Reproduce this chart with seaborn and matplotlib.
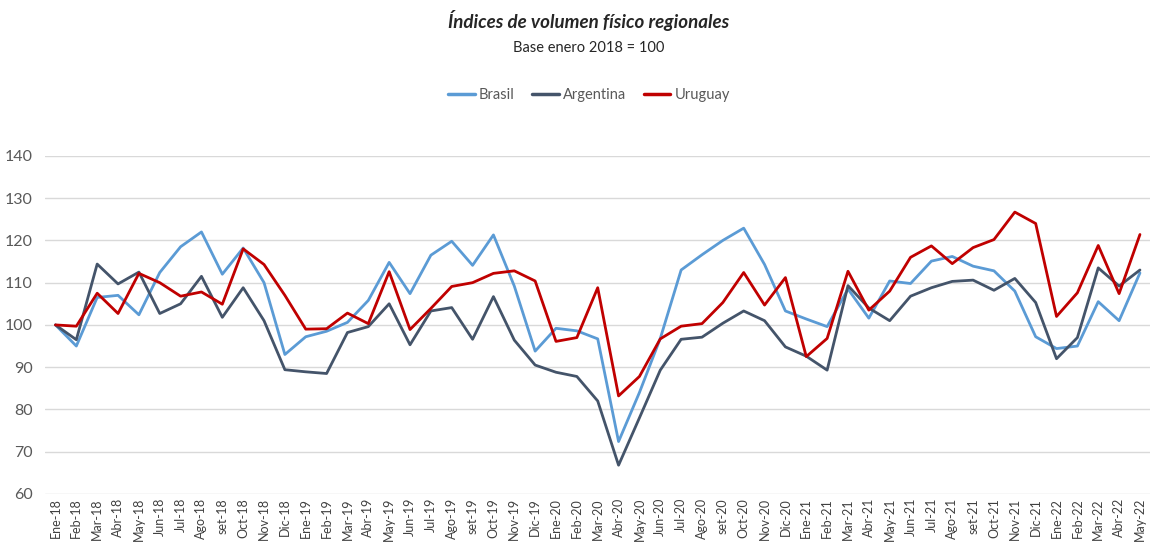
import pandas as pd
import matplotlib
matplotlib.use("Agg")
import matplotlib.pyplot as plt
import seaborn as sns

months = ["Ene-18", "Feb-18", "Mar-18", "Abr-18", "May-18", "Jun-18", "Jul-18", "Ago-18", "set-18", "Oct-18", "Nov-18", "Dic-18",
          "Ene-19", "Feb-19", "Mar-19", "Abr-19", "May-19", "Jun-19", "Jul-19", "Ago-19", "set-19", "Oct-19", "Nov-19", "Dic-19",
          "Ene-20", "Feb-20", "Mar-20", "Abr-20", "May-20", "Jun-20", "Jul-20", "Ago-20", "set-20", "Oct-20", "Nov-20", "Dic-20",
          "Ene-21", "Feb-21", "Mar-21", "Abr-21", "May-21", "Jun-21", "Jul-21", "Ago-21", "set-21", "Oct-21", "Nov-21", "Dic-21",
          "Ene-22", "Feb-22", "Mar-22", "Abr-22", "May-22"]

brasil = [100, 95, 106.5, 107, 102.4, 112.4, 118.5, 122, 112, 118.2, 110, 93,
          97.2, 98.5, 100.6, 105.8, 114.8, 107.4, 116.5, 119.8, 114.1, 121.3, 109.2, 93.8,
          99.2, 98.6, 96.7, 72.4, 84, 96.8, 113, 116.6, 120, 122.9, 114.3, 103.3,
          101.4, 99.6, 108.5, 101.6, 110.4, 109.8, 115.1, 116.2, 113.9, 112.8, 108, 97.2,
          94.4, 95, 105.5, 101, 112.3]

argentina = [100, 96.5, 114.4, 109.7, 112.5, 102.7, 105, 111.5, 101.8, 108.8, 101, 89.4,
             88.9, 88.5, 98.2, 99.6, 105, 95.3, 103.3, 104.1, 96.6, 106.7, 96.4, 90.5,
             88.8, 87.8, 82, 66.8, 78, 89.3, 96.6, 97.1, 100.4, 103.3, 101, 94.8,
             92.6, 89.3, 109.3, 104, 101, 106.8, 108.8, 110.3, 110.6, 108.2, 111, 105.3,
             92, 97, 113.5, 109.2, 113]

uruguay = [100, 99.7, 107.5, 102.7, 112.2, 110, 106.8, 107.8, 104.9, 118, 114.3, 107,
           99, 99.1, 102.8, 100.3, 112.6, 98.9, 103.9, 109.1, 110, 112.2, 112.8, 110.4,
           96.1, 97, 108.8, 83.2, 87.8, 96.7, 99.7, 100.3, 105.3, 112.4, 104.7, 111.2,
           92.5, 96.8, 112.7, 103.5, 108, 116, 118.7, 114.5, 118.3, 120.2, 126.7, 124,
           102, 107.6, 118.8, 107.4, 121.4]

series = ["Brasil", "Argentina", "Uruguay"]
colors = ["#5B9BD5", "#44546A", "#C00000"]

df = pd.DataFrame({"mes": months, "Brasil": brasil, "Argentina": argentina, "Uruguay": uruguay})
df["pos"] = range(len(months))
long_df = df.melt(id_vars=["mes", "pos"], value_vars=series, var_name="pais", value_name="indice")

sns.set_style("white")
plt.rcParams["font.family"] = ["Lato", "DejaVu Sans"]

fig = plt.figure(figsize=(11.55, 5.47), dpi=100)
ax = fig.add_axes([0.039, 0.097, 0.957, 0.618])

sns.lineplot(data=long_df, x="pos", y="indice", hue="pais", hue_order=series,
             palette=colors, linewidth=2.0, ax=ax, legend=False)

ax.set_xlim(-0.5, len(months) - 0.5)
ax.set_ylim(60, 140)
ax.set_yticks(range(60, 141, 10))
ax.set_xticks(range(len(months)))
ax.set_xticklabels(months, rotation=90, fontsize=9, color="#404040")
ax.tick_params(axis="y", labelsize=11.5, colors="#595959", length=0, pad=9)
ax.tick_params(axis="x", length=0, pad=3)
ax.set_xlabel("")
ax.set_ylabel("")
ax.yaxis.grid(True, color="#d9d9d9", linewidth=1)
ax.set_axisbelow(True)
for s in ax.spines.values():
    s.set_visible(False)

fig.text(0.51, 0.963, "Índices de volumen físico regionales", ha="center", va="center",
         fontsize=13.5, fontweight="bold", fontstyle="italic")
fig.text(0.51, 0.912, "Base enero 2018 = 100", ha="center", va="center", fontsize=10.5)

handles = [plt.Line2D([], [], color=c, linewidth=2.5) for c in colors]
fig.legend(handles, series, loc="center", bbox_to_anchor=(0.51, 0.826), ncol=3, frameon=False,
           fontsize=10.5, handlelength=1.8, handletextpad=0.3, columnspacing=1.2,
           labelcolor="#595959")

fig.savefig("out.png", dpi=100)
